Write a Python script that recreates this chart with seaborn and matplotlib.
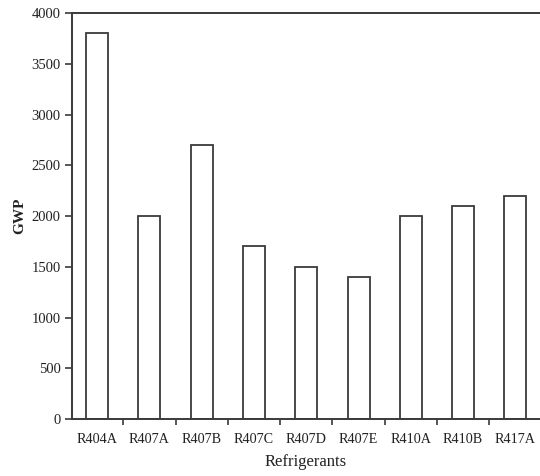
import matplotlib
matplotlib.use("Agg")
import matplotlib.pyplot as plt
import seaborn as sns
import pandas as pd
from matplotlib.ticker import FixedLocator

refrigerants = ["R404A", "R407A", "R407B", "R407C", "R407D", "R407E", "R410A", "R410B", "R417A"]
gwp = [3800, 2000, 2700, 1700, 1500, 1400, 2000, 2100, 2200]
y_ticks = [0, 500, 1000, 1500, 2000, 2500, 3000, 3500, 4000]

df = pd.DataFrame({"Refrigerants": refrigerants, "GWP": gwp})

sns.set_style("ticks")
plt.rcParams["font.family"] = ["Liberation Serif", "DejaVu Serif"]

ink = "#3a3a3a"
fig = plt.figure(figsize=(5.4, 4.76), dpi=100)
ax = fig.add_axes([0.1333, 0.1197, 0.8667, 0.8530])

sns.barplot(data=df, x="Refrigerants", y="GWP", order=refrigerants, ax=ax,
            color="white", edgecolor=ink, linewidth=1.3, width=0.42,
            saturation=1)

ax.set_xlim(-0.48, len(refrigerants) - 0.53)
ax.set_ylim(0, 4000)
ax.set_yticks(y_ticks)
ax.set_yticklabels([str(v) for v in y_ticks], fontsize=10.5)

# category labels without ticks; small ticks between categories
ax.set_xticks(range(len(refrigerants)))
ax.set_xticklabels(refrigerants, fontsize=10.2)
ax.tick_params(axis="x", which="major", length=0, pad=10, colors="#222222")
ax.xaxis.set_minor_locator(FixedLocator([i + 0.5 for i in range(len(refrigerants) - 1)]))
ax.tick_params(axis="x", which="minor", direction="out", length=4, width=1.2, color=ink)
ax.tick_params(axis="y", which="major", direction="out", length=5, width=1.2,
               color=ink, labelcolor="#222222", pad=3)

for side in ["left", "bottom", "top"]:
    ax.spines[side].set_visible(True)
    ax.spines[side].set_color(ink)
    ax.spines[side].set_linewidth(1.4)
ax.spines["right"].set_visible(False)

ax.set_ylabel("GWP", fontsize=11, fontweight="bold", color="#222222", labelpad=4)
ax.set_xlabel("Refrigerants", fontsize=12, color="#222222", labelpad=6)

fig.savefig("out.png", dpi=100)
